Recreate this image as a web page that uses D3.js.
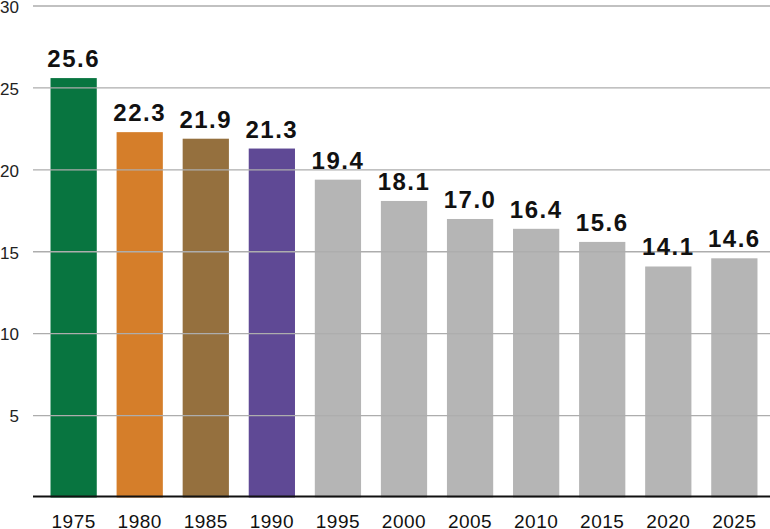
<!doctype html>
<html lang="en">
<head>
	<meta charset="UTF-8">
	<title>Bar chart 1975-2025</title>
	<style>
		html, body { margin: 0; padding: 0; background: #fff; }
		svg { display: block; font-family: "Liberation Sans", Arial, Helvetica, sans-serif; }
		.tick-label { font-size: 17px; fill: #222; }
		.year-label { font-size: 19px; fill: #111; text-anchor: middle; letter-spacing: 0.5px; }
		.bar__label { font-size: 24px; font-weight: bold; fill: #111; text-anchor: middle; letter-spacing: 1.5px; }
	</style>
</head>
<body>
	<script src="https://cdn.jsdelivr.net/npm/d3@7/dist/d3.min.js"></script>
	<script>
		var years = ['1975', '1980', '1985', '1990', '1995', '2000', '2005', '2010', '2015', '2020', '2025'];
		var values = [25.6, 22.3, 21.9, 21.3, 19.4, 18.1, 17.0, 16.4, 15.6, 14.1, 14.6];
		var barColors = ['#087540', '#d57e2a', '#95703e', '#5f4995', '#b5b5b5', '#b5b5b5', '#b5b5b5', '#b5b5b5', '#b5b5b5', '#b5b5b5', '#b5b5b5'];
		var yTicks = [5, 10, 15, 20, 25, 30];

		var w = 770,
			h = 529;

		var svg = d3.select('body')
			.append('svg')
			.attr('width', w)
			.attr('height', h);

		var xScale = d3.scaleBand()
			.domain(years)
			.range([34, 774])
			.paddingInner(0.3)
			.paddingOuter(0.25);

		var yScale = d3.scaleLinear()
			.domain([0, 30])
			.range([497.5, 6]);

		// bars
		svg.selectAll('rect.bar')
			.data(values)
			.enter()
			.append('rect')
			.attr('class', 'bar')
			.attr('x', function(d, i) { return xScale(years[i]); })
			.attr('y', function(d) { return yScale(d); })
			.attr('width', xScale.bandwidth())
			.attr('height', function(d) { return yScale(0) - yScale(d); })
			.attr('fill', function(d, i) { return barColors[i]; });

		// gridlines, drawn over the bars
		svg.selectAll('line.grid')
			.data(yTicks)
			.enter()
			.append('line')
			.attr('class', 'grid')
			.attr('x1', 33)
			.attr('x2', w)
			.attr('y1', function(d) { return yScale(d); })
			.attr('y2', function(d) { return yScale(d); })
			.attr('stroke', '#adadad')
			.attr('stroke-width', 1.3);

		// y tick labels
		svg.selectAll('text.tick-label')
			.data(yTicks)
			.enter()
			.append('text')
			.attr('class', 'tick-label')
			.attr('x', 19)
			.attr('y', function(d) { return yScale(d); })
			.attr('dy', '0.4em')
			.attr('text-anchor', 'end')
			.text(function(d) { return d; });

		// baseline
		svg.append('line')
			.attr('x1', 33)
			.attr('x2', w)
			.attr('y1', yScale(0) - 1)
			.attr('y2', yScale(0) - 1)
			.attr('stroke', '#111')
			.attr('stroke-width', 2);

		// year labels
		svg.selectAll('text.year-label')
			.data(years)
			.enter()
			.append('text')
			.attr('class', 'year-label')
			.attr('x', function(d) { return xScale(d) + xScale.bandwidth() / 2; })
			.attr('y', 528)
			.text(function(d) { return d; });

		// value labels
		svg.selectAll('text.bar__label')
			.data(values)
			.enter()
			.append('text')
			.attr('class', 'bar__label')
			.attr('x', function(d, i) { return xScale(years[i]) + xScale.bandwidth() / 2; })
			.attr('y', function(d) { return yScale(d) - 11; })
			.text(function(d) { return d.toFixed(1); });
	</script>
</body>
</html>
